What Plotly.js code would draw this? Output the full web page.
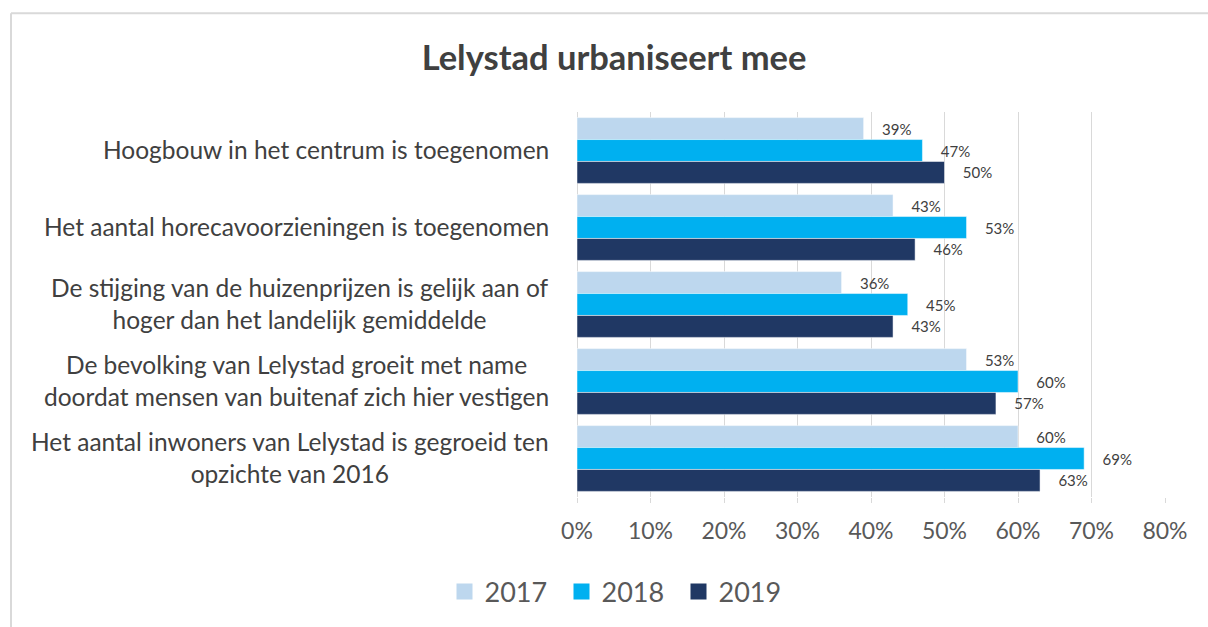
<!DOCTYPE html>
<html>
<head>
<meta charset="utf-8">
<script src="https://cdn.plot.ly/plotly-3.0.1.min.js"></script>
<style>
  html, body { margin: 0; padding: 0; background: #ffffff; }
  #chart { width: 1208px; height: 627px; }
</style>
</head>
<body>
<div id="chart"></div>
<script>
// ---- data ----
const categories = [
  "Hoogbouw in het centrum is toegenomen",
  "Het aantal horecavoorzieningen is toegenomen",
  "De stijging van de huizenprijzen is gelijk aan of<br>hoger dan het landelijk gemiddelde",
  "De bevolking van Lelystad groeit met name<br>doordat mensen van buitenaf zich hier vestigen",
  "Het aantal inwoners van Lelystad is gegroeid ten<br>opzichte van 2016"
];
const seriesNames = ["2017", "2018", "2019"];
const values2017 = [39, 43, 36, 53, 60];
const values2018 = [47, 53, 45, 60, 69];
const values2019 = [50, 46, 43, 57, 63];
const xTickValues = [0, 10, 20, 30, 40, 50, 60, 70, 80];
const xTickLabels = ["0%", "10%", "20%", "30%", "40%", "50%", "60%", "70%", "80%"];

// ---- styling ----
const colors = ["#BDD7EE", "#00B0F0", "#203864"];
const FONT = "Lato, 'Open Sans', sans-serif";
const seriesValues = [values2017, values2018, values2019];

const traces = [];
seriesValues.forEach((vals, i) => {
  traces.push({
    type: "bar",
    orientation: "h",
    name: seriesNames[i],
    y: categories,
    x: vals,
    text: vals.map(v => "\u00a0\u00a0\u00a0\u00a0" + v + "%"),
    texttemplate: "%{text}",
    textposition: "outside",
    cliponaxis: false,
    marker: { color: colors[i], line: { color: "#ffffff", width: 0.5 } },
    textfont: { family: FONT, size: 15, color: "#404040" },
    showlegend: false,
    hoverinfo: "x+name"
  });
});
// legend entries (square markers)
seriesNames.forEach((n, i) => {
  traces.push({
    type: "scatter",
    mode: "markers",
    name: n,
    x: [null], y: [null],
    marker: { symbol: "square", size: 17, color: colors[i] },
    showlegend: true,
    hoverinfo: "skip"
  });
});

// category labels as centered annotations (multi-line centered like the original)
const annotations = categories.map((c) => ({
  xref: "paper", yref: "y",
  x: -0.044, y: c,
  xanchor: "right", yanchor: "middle",
  align: "center",
  text: c,
  showarrow: false,
  yshift: 1,
  font: { family: FONT, size: 24.5, color: "#404040" }
}));

// chart border (top and left light gray lines)
const shapes = [
  { type: "line", xref: "paper", yref: "paper", x0: -0.9626, x1: 1.08, y0: 1.2565, y1: 1.2565,
    line: { color: "#d9d9d9", width: 2 }, layer: "below" },
  { type: "line", xref: "paper", yref: "paper", x0: -0.9626, x1: -0.9626, y0: 1.2565, y1: -0.34,
    line: { color: "#d9d9d9", width: 2 }, layer: "below" }
];

const layout = {
  width: 1208, height: 627,
  margin: { l: 577, r: 43, t: 112, b: 129 },
  paper_bgcolor: "#ffffff",
  plot_bgcolor: "#ffffff",
  font: { family: FONT, color: "#595959" },
  title: {
    text: "<b>Lelystad urbaniseert mee</b>",
    font: { family: FONT, size: 34.5, color: "#404040" },
    xref: "paper", x: 0.063, xanchor: "center",
    yref: "container", y: 1 - 58 / 627, yanchor: "middle"
  },
  barmode: "group",
  bargap: 0.146,
  bargroupgap: 0,
  xaxis: {
    range: [0, 80],
    tickmode: "array",
    tickvals: xTickValues,
    ticktext: xTickLabels,
    showgrid: true,
    gridcolor: "#d9d9d9",
    gridwidth: 1,
    zeroline: true,
    zerolinecolor: "#d9d9d9",
    zerolinewidth: 1,
    showline: false,
    ticks: "outside",
    ticklen: 5,
    tickcolor: "#d9d9d9",
    ticklabelstandoff: 8,
    tickfont: { family: FONT, size: 23, color: "#595959" },
    fixedrange: true
  },
  yaxis: {
    type: "category",
    autorange: "reversed",
    showticklabels: false,
    showgrid: false,
    zeroline: false,
    showline: false,
    ticks: "",
    fixedrange: true
  },
  legend: {
    orientation: "h",
    x: (620 - 577) / 588, xanchor: "center",
    y: (498 - 592) / 386, yanchor: "middle",
    font: { family: FONT, size: 27, color: "#595959" },
    entrywidth: 72, entrywidthmode: "pixels",
    itemclick: false, itemdoubleclick: false
  },
  annotations: annotations,
  shapes: shapes,
  showlegend: true
};

Plotly.newPlot("chart", traces, layout, { displayModeBar: false, staticPlot: true });
</script>
</body>
</html>
